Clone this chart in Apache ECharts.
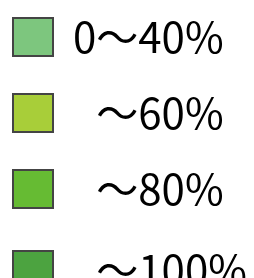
<!DOCTYPE html>
<html>
<head>
<meta charset="utf-8">
<script src="https://cdn.jsdelivr.net/npm/echarts@6/dist/echarts.min.js"></script>
<style>
  html, body { margin: 0; padding: 0; background: #fff; }
  #chart { width: 254px; height: 278px; }
</style>
</head>
<body>
<div id="chart"></div>
<script>
// 凡例の区分と色
const names = ['0～40%', '\u2007～60%', '\u2007～80%', '\u2007～100%'];
const colors = ['#7dc67e', '#a8ce39', '#66bb33', '#4ca340'];

const myChart = echarts.init(document.getElementById('chart'));

// 1項目ずつ凡例を置く（行間をそろえるため）
const legends = names.map((n, i) => ({
  orient: 'vertical',
  left: 12,
  top: 16 + i * 76,
  padding: 0,
  itemWidth: 40,
  itemHeight: 38,
  icon: 'rect',
  selectedMode: false,
  itemStyle: { borderColor: '#444', borderWidth: 2 },
  textStyle: {
    fontFamily: 'Noto Sans CJK JP',
    fontSize: 42,
    color: '#000',
    lineHeight: 38,
    padding: [0, 0, i === 3 ? 14 : 4, 15] // 最後の行は文字が少し上
  },
  data: [n]
}));

const option = {
  animation: false,
  grid: { left: 0, right: 0, top: 0, bottom: 0, show: false },
  xAxis: { type: 'category', show: false, data: ['a'] },
  yAxis: { type: 'value', show: false },
  legend: legends,
  series: names.map((n, i) => ({
    name: n,
    type: 'bar',
    data: [],
    itemStyle: { color: colors[i] }
  }))
};

myChart.setOption(option);
</script>
</body>
</html>
